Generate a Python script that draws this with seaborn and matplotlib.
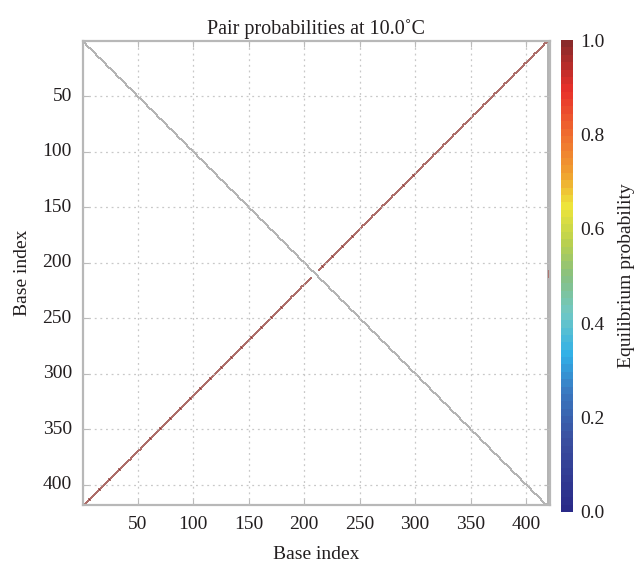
import numpy as np
import matplotlib
matplotlib.use("Agg")
import matplotlib.pyplot as plt
from matplotlib.colors import ListedColormap, LinearSegmentedColormap, to_rgba
import seaborn as sns

# ---- data ----
n_bases = 418
helix_first = 1          # 5' base of the long hairpin stem
helix_last = 206         # last paired base of the stem (pairs with n_bases+1-i)
pair_prob = 0.99
loop_bases = [207, 208, 209, 210, 211, 212]
loop_unpaired_prob = 0.95
tick_values = [50, 100, 150, 200, 250, 300, 350, 400]
cbar_ticks = [0.0, 0.2, 0.4, 0.6, 0.8, 1.0]
title = "Pair probabilities at 10.0˚C"
xlabel = "Base index"
ylabel = "Base index"
cbar_label = "Equilibrium probability"

# softened jet colour scale
cmap_stops = [0.0, 0.15, 0.25, 0.33, 0.42, 0.5, 0.57, 0.65, 0.72, 0.8, 0.9, 1.0]
cmap_colors = ["#2a2a88", "#3a50a0", "#3a78c0", "#30b0e8", "#70c8c4", "#88c080",
               "#b8d050", "#eee53a", "#f0a030", "#f07030", "#e8302a", "#8a2a2a"]

# ---- build matrices ----
extra_cols = 3
ncols = n_bases + extra_cols
prob = np.full((n_bases, ncols), np.nan)
for i in range(helix_first, helix_last + 1):
    j = n_bases + 1 - i
    prob[i - 1, j - 1] = pair_prob
    prob[j - 1, i - 1] = pair_prob
for b in loop_bases:
    prob[b - 1, n_bases + 1] = loop_unpaired_prob

gray = np.full((n_bases, ncols), np.nan)
for i in range(n_bases):
    gray[i, i] = 1.0
gray[:, n_bases:] = 1.0
gray[~np.isnan(prob)] = np.nan

sns.set_style("white")
plt.rcParams["font.family"] = ["Liberation Serif", "DejaVu Serif"]

cmap = LinearSegmentedColormap.from_list("soft_jet", list(zip(cmap_stops, cmap_colors)), N=64)

fig = plt.figure(figsize=(6.38, 5.65), dpi=100)
ax = fig.add_axes([0.130, 0.106, 0.732, 0.821])
cax = fig.add_axes([0.879, 0.094, 0.019, 0.835])

sns.heatmap(gray, ax=ax, cmap=ListedColormap(["#b2b2b2"]), cbar=False,
            vmin=0, vmax=1)
sns.heatmap(prob, ax=ax, cmap=cmap, vmin=0, vmax=1, cbar=True, cbar_ax=cax,
            cbar_kws={"ticks": cbar_ticks})


def thicken(mesh, data, color, lw):
    ec = np.zeros((data.size, 4))
    ec[~np.isnan(data).ravel()] = to_rgba(color)
    mesh.set_edgecolor(ec)
    mesh.set_linewidth(lw)


thicken(ax.collections[0], gray, "#b4b4b4", 0.55)
thicken(ax.collections[1], prob, "#ad6e6a", 0.55)

ax.set_xlim(0, ncols)
ax.set_ylim(n_bases, 0)
ax.set_xticks([t - 0.5 for t in tick_values])
ax.set_xticklabels([str(t) for t in tick_values], rotation=0)
ax.set_yticks([t - 0.5 for t in tick_values])
ax.set_yticklabels([str(t) for t in tick_values], rotation=0)
ax.tick_params(direction="in", length=4, width=0.8, color="#bbbbbb",
               labelsize=14, labelcolor="#231f20", top=True, right=True,
               bottom=True, left=True, pad=8)
ax.grid(True, linestyle=(0, (1.5, 3)), color="#c8c8c8", linewidth=0.9)
ax.set_axisbelow(False)
for s in ["left", "bottom", "top", "right"]:
    ax.spines[s].set_visible(True)
    ax.spines[s].set_color("#b8b8b8")
    ax.spines[s].set_linewidth(1.6)

ax.set_title(title, fontsize=14.5, color="#231f20", pad=5)
ax.set_xlabel(xlabel, fontsize=14, color="#231f20", labelpad=9)
ax.set_ylabel(ylabel, fontsize=14, color="#231f20", labelpad=8)

cb = ax.collections[-1].colorbar
cb.outline.set_visible(False)
cax.tick_params(length=0, labelsize=14, labelcolor="#231f20", pad=5)
cax.set_yticklabels([f"{t:.1f}" for t in cbar_ticks])
cb.set_label(cbar_label, fontsize=14, color="#231f20", labelpad=10)

fig.savefig("out.png", dpi=100)
